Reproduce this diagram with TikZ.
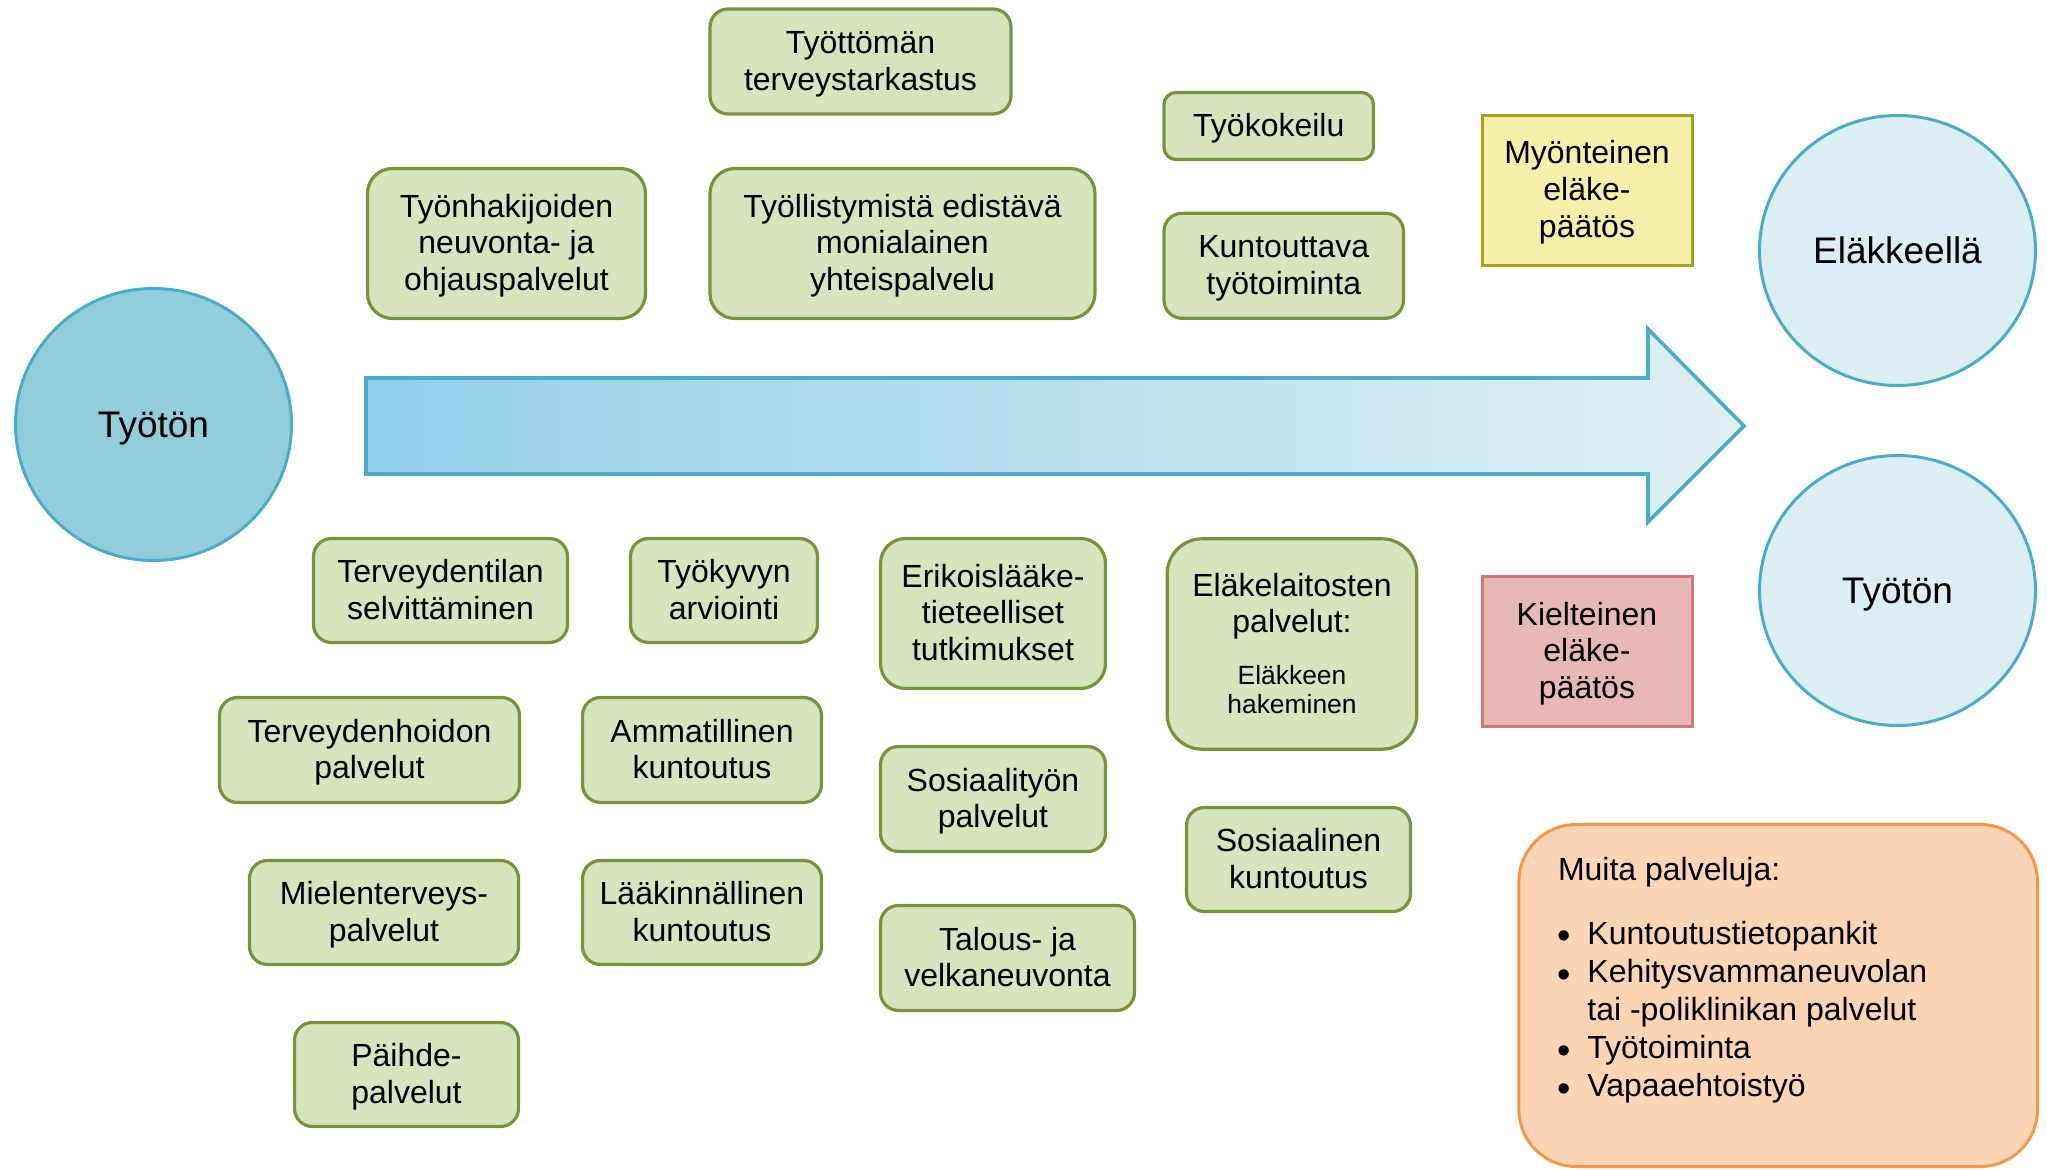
\documentclass[tikz,border=0pt]{standalone}
\usepackage{fontspec}
\setmainfont{Liberation Sans}
\usetikzlibrary{shapes.geometric}
\definecolor{gfill}{HTML}{D7E4BD}
\definecolor{gline}{HTML}{77933C}
\definecolor{aqua}{HTML}{4BACC6}
\definecolor{darkcirc}{HTML}{92CDDC}
\definecolor{lightcirc}{HTML}{DAEEF3}
\definecolor{arrowL}{HTML}{93CFEA}
\definecolor{arrowR}{HTML}{DFF0F6}
\definecolor{yfill}{HTML}{F3F0AC}
\definecolor{yline}{HTML}{A7A11C}
\definecolor{rfill}{HTML}{E6B9B8}
\definecolor{rline}{HTML}{D17776}
\definecolor{ofill}{HTML}{FBD5B5}
\definecolor{oline}{HTML}{F79646}
\newcommand\boxtext[1]{\raisebox{-1.55pt}[\height][\depth]{\begin{tabular}{@{}c@{}}#1\end{tabular}}}
\tikzset{
  txt/.style={font=\fontsize{16}{18.4}\selectfont, text=black},
  vfix/.style={execute at begin node={\rule{0pt}{14pt}},
    execute at end node={\rule[-3.5pt]{0pt}{0pt}}},
  gbox/.style={txt, draw=gline, fill=gfill, line width=1.6pt, inner sep=0pt,
    rectangle},
  sqbox/.style={txt, line width=1.5pt, inner sep=0pt, rectangle,
    minimum width=105pt, minimum height=75pt},
  bigcirc/.style={ellipse, draw=aqua, line width=1.5pt, inner sep=0pt,
    font=\fontsize{18.5}{22}\selectfont, minimum width=138pt,
    text height=14pt, text depth=0.5pt},
  smalltxt/.style={font=\fontsize{13.2}{14.6}\selectfont, align=center, inner sep=0pt},
  mtext/.style={txt, inner sep=0pt},
  bul/.style={font=\fontsize{19}{19}\selectfont, inner sep=0pt, anchor=base}
}
\begin{document}
\begin{tikzpicture}[x=0.5pt, y=-0.5pt]
\useasboundingbox (0,0) rectangle (2047,1170);

% big arrow
\path[left color=arrowL, right color=arrowR, draw=aqua, line width=1.8pt, line join=miter]
  (366,378) -- (1648,378) -- (1648,329) -- (1744,426) -- (1648,522) -- (1648,474) -- (366,474) -- cycle;

% circles
\node[bigcirc, fill=darkcirc, minimum height=136pt] (start) at (153.5,424.5) {Työtön};
\node[bigcirc, fill=lightcirc, minimum height=135pt] (retired) at (1897.5,250.5) {Eläkkeellä};
\node[bigcirc, fill=lightcirc, minimum height=135pt] (unemp) at (1897.5,590.5) {Työtön};

% decisions
\node[sqbox, draw=yline, fill=yfill] (pos) at (1587,190.2) {\boxtext{Myönteinen\\eläke-\\päätös}};
\node[sqbox, draw=rline, fill=rfill] (neg) at (1587,651.5) {\boxtext{Kielteinen\\eläke-\\päätös}};

% green service boxes
\node[gbox, minimum width=150.5pt, minimum height=52.5pt, rounded corners=9pt] (tt) at (860.5,61.5) {\boxtext{Työttömän\\terveystarkastus}};
\node[gbox, minimum width=139pt, minimum height=75pt, rounded corners=12.5pt] (tn) at (506.5,243.5) {\boxtext{Työnhakijoiden\\neuvonta- ja\\ohjauspalvelut}};
\node[gbox, minimum width=192.5pt, minimum height=75pt, rounded corners=12.5pt] (ty) at (902.5,243.5) {\boxtext{Työllistymistä edistävä\\monialainen\\yhteispalvelu}};
\node[gbox, minimum width=104.75pt, minimum height=33.5pt, rounded corners=6pt] (tk) at (1268.75,126) {\boxtext{Työkokeilu}};
\node[gbox, minimum width=119.75pt, minimum height=52.5pt, rounded corners=9pt] (kt) at (1283.75,265.8) {\boxtext{Kuntouttava\\työtoiminta}};

\node[gbox, minimum width=127pt, minimum height=52pt, rounded corners=9pt] (tdt) at (440.5,590.5) {\boxtext{Terveydentilan\\selvittäminen}};
\node[gbox, minimum width=93.5pt, minimum height=52pt, rounded corners=9pt] (tkv) at (724,590.5) {\boxtext{Työkyvyn\\arviointi}};
\node[gbox, minimum width=112.5pt, minimum height=75pt, rounded corners=12.5pt] (el) at (993,613.5) {\boxtext{Erikoislääke-\\tieteelliset\\tutkimukset}};
\node[gbox, minimum width=124.8pt, minimum height=105.2pt, rounded corners=17.5pt] (elk) at (1292,644) {};
\node[txt, vfix, align=center, inner sep=0pt] (elkt) at (1292,606.5) {Eläkelaitosten\\palvelut:};
\node[smalltxt] (elks) at (1292,689.5) {Eläkkeen\\hakeminen};

\node[gbox, minimum width=150pt, minimum height=52.5pt, rounded corners=9pt] (thd) at (369.5,750) {\boxtext{Terveydenhoidon\\palvelut}};
\node[gbox, minimum width=119.5pt, minimum height=52.5pt, rounded corners=9pt] (am) at (702,750) {\boxtext{Ammatillinen\\kuntoutus}};
\node[gbox, minimum width=112.5pt, minimum height=52.5pt, rounded corners=9pt] (st) at (993,799) {\boxtext{Sosiaalityön\\palvelut}};
\node[gbox, minimum width=112pt, minimum height=52pt, rounded corners=9pt] (sk) at (1298.5,859.5) {\boxtext{Sosiaalinen\\kuntoutus}};
\node[gbox, minimum width=134.5pt, minimum height=52pt, rounded corners=9pt] (mt) at (384,912.5) {\boxtext{Mielenterveys-\\palvelut}};
\node[gbox, minimum width=119.5pt, minimum height=52pt, rounded corners=9pt] (lk) at (702,912.5) {\boxtext{Lääkinnällinen\\kuntoutus}};
\node[gbox, minimum width=127pt, minimum height=52.5pt, rounded corners=9pt] (tv) at (1007.5,958) {\boxtext{Talous- ja\\velkaneuvonta}};
\node[gbox, minimum width=112pt, minimum height=52pt, rounded corners=9pt] (ph) at (406.5,1074.5) {\boxtext{Päihde-\\palvelut}};

% other services box
\node[draw=oline, fill=ofill, line width=1.5pt, rectangle, rounded corners=28.5pt,
  minimum width=259.3pt, minimum height=171pt, inner sep=0pt] (other) at (1778.2,995.5) {};
\node[mtext, anchor=base west] (oh) at (1557.6,880) {Muita palveluja:};
\node[bul] (ob1) at (1564,949) {•};
\node[mtext, anchor=base west] (o1) at (1587,944) {Kuntoutustietopankit};
\node[bul] (ob2) at (1564,987.7) {•};
\node[mtext, anchor=base west] (o2) at (1587,982.7) {Kehitysvammaneuvolan};
\node[mtext, anchor=base west] (o2b) at (1587,1020) {tai -poliklinikan palvelut};
\node[bul] (ob3) at (1564,1063) {•};
\node[mtext, anchor=base west] (o3) at (1587,1058) {Työtoiminta};
\node[bul] (ob4) at (1564,1101.7) {•};
\node[mtext, anchor=base west] (o4) at (1587,1096.7) {Vapaaehtoistyö};
\end{tikzpicture}
\end{document}
